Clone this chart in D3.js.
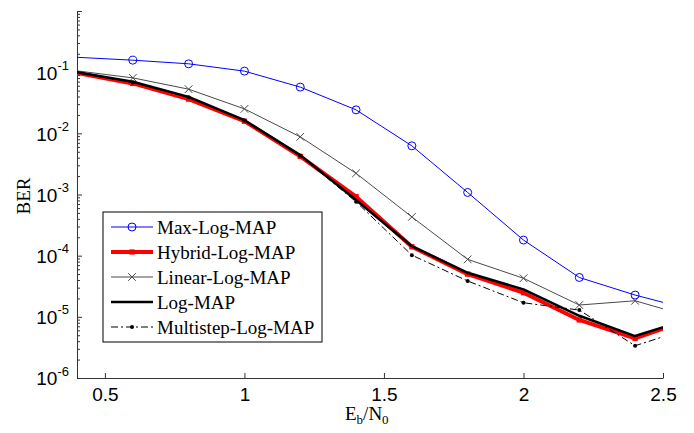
<!DOCTYPE html>
<html>
<head>
<meta charset="utf-8">
<script src="https://cdn.jsdelivr.net/npm/d3@7"></script>
<style>
  body { margin: 0; background: #fff; }
  svg { display: block; }
  .tick text { font-family: "Liberation Sans", Arial, sans-serif; }
</style>
</head>
<body>
<svg width="694" height="433"></svg>
<script>
// Eb/N0 points (the outer two are only there so the lines run to the axes edge)
const ebno = [0.2, 0.4, 0.6, 0.8, 1.0, 1.2, 1.4, 1.6, 1.8, 2.0, 2.2, 2.4, 2.6];

const maxLogMap = [0.195, 0.175, 0.157, 0.137, 0.104, 0.057, 0.0242, 0.00625, 0.00108, 1.8e-4, 4.4e-5, 2.27e-5, 1.31e-5];
const hybridLogMap = [0.13, 0.097, 0.0654, 0.0363, 0.0158, 0.0042, 9.2e-4, 1.4e-4, 5.0e-5, 2.48e-5, 8.9e-6, 4.45e-6, 9.3e-6];
const linearLogMap = [0.135, 0.105, 0.0807, 0.0527, 0.0251, 0.00877, 0.00222, 4.3e-4, 8.7e-5, 4.27e-5, 1.56e-5, 1.83e-5, 1.0e-5];
const logMap = [0.13, 0.1, 0.0695, 0.0395, 0.0164, 0.0044, 8.1e-4, 1.43e-4, 5.25e-5, 2.81e-5, 1.04e-5, 4.85e-6, 9.4e-6];
const multistepLogMap = [0.13, 0.098, 0.068, 0.039, 0.0162, 0.0043, 7.6e-4, 1.02e-4, 3.85e-5, 1.7e-5, 1.29e-5, 3.37e-6, 6.6e-6];

const xTicks = [0.5, 1, 1.5, 2, 2.5];
const xTickLabels = ["0.5", "1", "1.5", "2", "2.5"];
const yTickExps = [-6, -5, -4, -3, -2, -1];

const series = [
  { name: "Max-Log-MAP", values: maxLogMap, color: "#0000ff", width: 1, dash: null, marker: "circle" },
  { name: "Hybrid-Log-MAP", values: hybridLogMap, color: "#ff0000", width: 4, dash: null, marker: "square" },
  { name: "Linear-Log-MAP", values: linearLogMap, color: "#4a4a4a", width: 1, dash: null, marker: "cross" },
  { name: "Log-MAP", values: logMap, color: "#000000", width: 2.5, dash: null, marker: null },
  { name: "Multistep-Log-MAP", values: multistepLogMap, color: "#000000", width: 1, dash: "7,3,2,3", marker: "dot" },
];

const svg = d3.select("svg");
const m = { left: 77, right: 663, top: 11, bottom: 378 };

const x = d3.scaleLinear().domain([0.4, 2.5]).range([m.left, m.right]);
const y = d3.scaleLog().domain([1e-6, 1]).range([m.bottom, m.top]);

svg.append("defs").append("clipPath").attr("id", "plot")
  .append("rect")
  .attr("x", m.left).attr("y", m.top)
  .attr("width", m.right - m.left).attr("height", m.bottom - m.top);

// minor y ticks
const majors = yTickExps.map((e) => Math.pow(10, e)).concat([1]);
const minorTicks = y.ticks().filter((v) => !majors.some((mj) => Math.abs(v - mj) / mj < 1e-6));

svg.append("g")
  .attr("transform", `translate(${m.left},0)`)
  .call(d3.axisLeft(y).tickValues(minorTicks).tickSizeInner(-3).tickSizeOuter(0).tickFormat(""))
  .call((g) => g.select(".domain").remove())
  .selectAll("line").attr("stroke", "#333");

// major y ticks
const yAxisG = svg.append("g")
  .attr("transform", `translate(${m.left},0)`)
  .call(d3.axisLeft(y).tickValues(majors).tickSizeInner(-5).tickSizeOuter(0).tickPadding(8).tickFormat(""));
yAxisG.select(".domain").attr("stroke", "#333");
yAxisG.selectAll("line").attr("stroke", "#333");
yAxisG.selectAll(".tick text").each(function (d) {
  const e = Math.round(Math.log10(d));
  if (!yTickExps.includes(e)) return;
  const t = d3.select(this).attr("font-size", 19).attr("fill", "#000").attr("dy", "0.36em");
  t.append("tspan").text("10");
  t.append("tspan").attr("font-size", 13).attr("dy", "-0.75em").text(e);
});

// x axis
const xAxisG = svg.append("g")
  .attr("transform", `translate(0,${m.bottom})`)
  .call(d3.axisBottom(x).tickValues(xTicks).tickSizeInner(-5).tickSizeOuter(0).tickPadding(10)
    .tickFormat((d, i) => xTickLabels[i]));
xAxisG.select(".domain").attr("stroke", "#333");
xAxisG.selectAll("line").attr("stroke", "#333");
xAxisG.selectAll("text").attr("font-size", 19).attr("fill", "#000");

// series
const plot = svg.append("g").attr("clip-path", "url(#plot)");
const line = d3.line().x((d) => x(d[0])).y((d) => y(d[1]));

const drawMarker = (g, type, color, px, py) => {
  if (type === "circle") {
    g.append("circle").attr("cx", px).attr("cy", py).attr("r", 4)
      .attr("fill", "none").attr("stroke", color).attr("stroke-width", 1);
  } else if (type === "square") {
    g.append("path").attr("d", d3.symbol(d3.symbolSquare, 28)())
      .attr("transform", `translate(${px},${py})`).attr("fill", color);
  } else if (type === "cross") {
    g.append("path").attr("d", d3.symbol(d3.symbolTimes, 40)())
      .attr("transform", `translate(${px},${py})`)
      .attr("fill", "none").attr("stroke", color).attr("stroke-width", 1);
  } else if (type === "dot") {
    g.append("circle").attr("cx", px).attr("cy", py).attr("r", 2).attr("fill", color);
  }
};

const [x0, x1] = x.domain();
series.forEach((s) => {
  const pts = ebno.map((e, i) => [e, s.values[i]]);
  plot.append("path")
    .attr("d", line(pts))
    .attr("fill", "none")
    .attr("stroke", s.color)
    .attr("stroke-width", s.width)
    .attr("stroke-linejoin", "round")
    .attr("stroke-dasharray", s.dash);
  if (s.marker) {
    const mg = plot.append("g");
    pts.filter((p) => p[0] > x0 + 1e-9 && p[0] < x1)
      .forEach((p) => drawMarker(mg, s.marker, s.color, x(p[0]), y(p[1])));
  }
});

// axis titles
svg.append("text")
  .attr("transform", "translate(30,196) rotate(-90)")
  .attr("text-anchor", "middle")
  .attr("font-family", "Liberation Serif, Times New Roman, serif")
  .attr("font-size", 19)
  .text("BER");

const xt = svg.append("text")
  .attr("x", 345).attr("y", 420)
  .attr("font-family", "Liberation Serif, Times New Roman, serif")
  .attr("font-size", 19);
xt.append("tspan").text("E");
xt.append("tspan").attr("font-size", 13).attr("dy", 4).text("b");
xt.append("tspan").attr("dy", -4).text("/N");
xt.append("tspan").attr("font-size", 13).attr("dy", 4).text("0");

// legend
const legend = svg.append("g").attr("transform", "translate(103,212)");
legend.append("rect")
  .attr("width", 219).attr("height", 130)
  .attr("fill", "#fff").attr("stroke", "#000").attr("stroke-width", 1);

series.forEach((s, i) => {
  const ly = 15 + i * 25;
  const row = legend.append("g");
  row.append("line")
    .attr("x1", 8).attr("x2", 50).attr("y1", ly).attr("y2", ly)
    .attr("stroke", s.color).attr("stroke-width", s.width)
    .attr("stroke-dasharray", s.dash);
  if (s.marker) drawMarker(row, s.marker, s.color, 29, ly);
  row.append("text")
    .attr("x", 54).attr("y", ly).attr("dy", "0.35em")
    .attr("font-family", "Liberation Serif, Times New Roman, serif")
    .attr("font-size", 19)
    .text(s.name);
});
</script>
</body>
</html>
